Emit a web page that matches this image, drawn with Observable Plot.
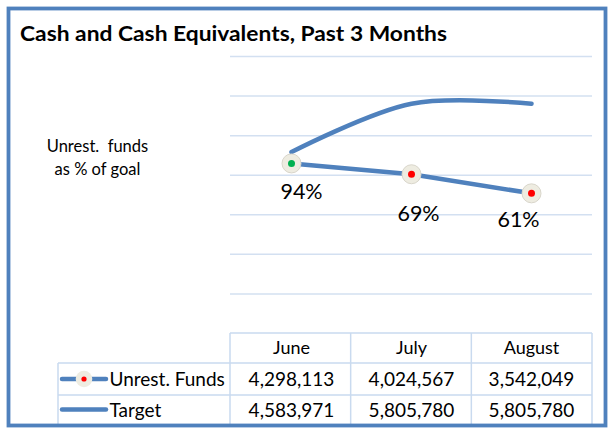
<!DOCTYPE html>
<html>
<head>
<meta charset="utf-8">
<script src="https://cdn.jsdelivr.net/npm/d3@7"></script>
<script src="https://cdn.jsdelivr.net/npm/@observablehq/plot@0.6"></script>
<style>
  html, body { margin: 0; padding: 0; background: #fff; }
  #chart { width: 613px; height: 434px; }
</style>
</head>
<body>
<div id="chart"></div>
<script>
// ---- data ----
const titleText = "Cash and Cash Equivalents, Past 3 Months";
const yLabelLines = ["Unrest.  funds", "as % of goal"];
const months = ["June", "July", "August"];
const seriesNames = ["Unrest. Funds", "Target"];
const unrestFunds = [4298113, 4024567, 3542049];
const target = [4583971, 5805780, 5805780];
const pctLabels = ["94%", "69%", "61%"];
const gridValues = [1000000, 2000000, 3000000, 4000000, 5000000, 6000000, 7000000];

// ---- layout / style ----
const W = 613, H = 434;
const mL = 230, mR = 21, mT = 56, mB = 101;
const blue = "#4F81BD";
const gridColor = "#D3E0F1";
const tableColor = "#C9DAEF";
const font = "Lato, 'Open Sans', sans-serif";
const fmt = d3.format(",");

const fundsData = months.map((m, i) => ({month: m, value: unrestFunds[i], label: pctLabels[i]}));
const targetData = months.map((m, i) => ({month: m, value: target[i]}));

const labelOffsets = [[10, 29], [7, 40], [-13, 27]];
const labelMarks = labelOffsets.map(([dx, dy], k) =>
  Plot.text(fundsData, {filter: (d, i) => i === k, x: "month", y: "value", text: "label",
    dx, dy, fontSize: 21.5, fill: "#000"}));

const cell = {frameAnchor: "bottom", lineAnchor: "middle", fill: "#000"};
const rowLabel = {frameAnchor: "bottom-left", lineAnchor: "middle", textAnchor: "start", dx: -121, fontSize: 19, fill: "#000"};

const chart = Plot.plot({
  width: W, height: H,
  marginLeft: mL, marginRight: mR, marginTop: mT, marginBottom: mB,
  style: {fontFamily: font, fontSize: "17px", background: "white", color: "#000", overflow: "visible"},
  x: {type: "band", domain: months, padding: 0, axis: null},
  y: {domain: [0, 7000000], axis: null},
  marks: [
    Plot.ruleY(gridValues, {stroke: gridColor, strokeWidth: 1.5}),
    Plot.line(targetData, {x: "month", y: "value", curve: "catmull-rom", stroke: blue, strokeWidth: 4.5}),
    Plot.line(fundsData, {x: "month", y: "value", stroke: blue, strokeWidth: 4.5}),
    Plot.dot(fundsData, {x: "month", y: "value", r: 9.5, fill: "#EEECE1", stroke: "#D9D6CB", strokeWidth: 1}),
    Plot.dot(fundsData, {x: "month", y: "value", r: 3.5, stroke: null,
      fill: d => parseFloat(d.label) >= 90 ? "#00B050" : "#FF0000"}),
    ...labelMarks,
    // table header
    Plot.text(months, {...cell, x: d => d, text: d => d, dy: 14.5, fontSize: 18}),
    // table rows
    Plot.text(fundsData, {...cell, x: "month", text: d => fmt(d.value), dy: 46, fontSize: 19}),
    Plot.text(targetData, {...cell, x: "month", text: d => fmt(d.value), dy: 77, fontSize: 19}),
    Plot.text([seriesNames[0]], {...rowLabel, text: d => d, dy: 46}),
    Plot.text([seriesNames[1]], {...rowLabel, text: d => d, dy: 77})
  ]
});
document.getElementById("chart").appendChild(chart);

// ---- decorations (frame, title, label, table grid, legend keys) ----
const svg = d3.select(chart);
const xb = d3.scaleBand().domain(months).range([mL, W - mR]).padding(0);
const tTop = H - mB, r1 = 363, r2 = 395, tBot = 424, tLeft = 58;
const g = svg.append("g").attr("stroke", tableColor).attr("stroke-width", 1.5);
g.append("line").attr("x1", mL).attr("x2", W - mR).attr("y1", tTop).attr("y2", tTop);
[r1, r2].forEach(y => g.append("line").attr("x1", tLeft).attr("x2", W - mR).attr("y1", y).attr("y2", y));
g.append("line").attr("x1", tLeft).attr("x2", tLeft).attr("y1", r1).attr("y2", tBot);
months.forEach(m => g.append("line").attr("x1", xb(m)).attr("x2", xb(m)).attr("y1", tTop).attr("y2", tBot));
g.append("line").attr("x1", W - mR).attr("x2", W - mR).attr("y1", tTop).attr("y2", tBot);

// legend keys
const k1y = (r1 + r2) / 2, k2y = (r2 + tBot) / 2;
const lk = svg.append("g");
lk.append("line").attr("x1", 62).attr("x2", 106).attr("y1", k1y).attr("y2", k1y)
  .attr("stroke", blue).attr("stroke-width", 4.5).attr("stroke-linecap", "round");
lk.append("circle").attr("cx", 84).attr("cy", k1y).attr("r", 8.3).attr("fill", "#EEECE1");
lk.append("circle").attr("cx", 84).attr("cy", k1y).attr("r", 2.6).attr("fill", "#FF0000");
lk.append("line").attr("x1", 62).attr("x2", 106).attr("y1", k2y).attr("y2", k2y)
  .attr("stroke", blue).attr("stroke-width", 4.5).attr("stroke-linecap", "round");

// title
svg.append("text").attr("x", 20).attr("y", 41).attr("text-anchor", "start")
  .attr("font-family", font).attr("font-weight", "bold")
  .attr("font-size", 20).attr("fill", "#000").attr("textLength", 427).attr("lengthAdjust", "spacingAndGlyphs")
  .text(titleText);

// y label
yLabelLines.forEach((t, i) => {
  svg.append("text").attr("x", 97.5).attr("y", 152 + i * 23).attr("text-anchor", "middle")
    .attr("font-family", font).attr("font-size", 16.5).attr("fill", "#000").style("white-space", "pre").text(t);
});

// outer frame
svg.append("rect").attr("x", 8.5).attr("y", 8.5).attr("width", 597).attr("height", 417)
  .attr("fill", "none").attr("stroke", blue).attr("stroke-width", 3.8);
</script>
</body>
</html>
